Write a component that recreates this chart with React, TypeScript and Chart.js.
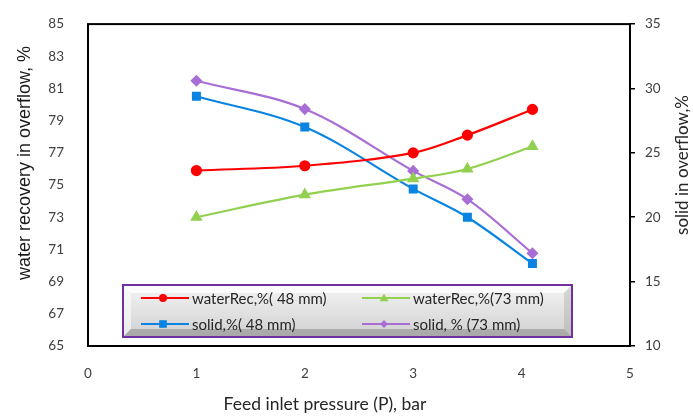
import React, { useEffect, useRef } from "react";
import { Chart, registerables } from "chart.js";

Chart.register(...registerables);

const pressure = [1, 2, 3, 3.5, 4.1];
const waterRec48 = [75.9, 76.2, 77.0, 78.1, 79.7];
const waterRec73 = [73.0, 74.4, 75.4, 76.0, 77.4];
const solid48 = [29.4, 27.0, 22.2, 20.0, 16.4];
const solid73 = [30.6, 28.4, 23.6, 21.4, 17.2];
const seriesLabels = ["waterRec,%( 48 mm)", "waterRec,%(73 mm)", "solid,%( 48 mm)", "solid, % (73 mm)"];
const xTitle = "Feed inlet pressure (P), bar";
const yTitle = "water recovery in overflow, %";
const y1Title = "solid in overflow,%";

const FONT = 'Lato, "Open Sans", sans-serif';
const ARIAL = '"Liberation Sans", Arial, sans-serif';

function drawMarker(ctx: CanvasRenderingContext2D, style: string, x: number, y: number, r: number, color: string) {
  ctx.save();
  ctx.fillStyle = color;
  ctx.beginPath();
  if (style === "circle") {
    ctx.arc(x, y, r, 0, Math.PI * 2);
  } else if (style === "rect") {
    ctx.rect(x - r, y - r, 2 * r, 2 * r);
  } else if (style === "triangle") {
    ctx.moveTo(x, y - r * 1.1);
    ctx.lineTo(x + r * 1.1, y + r * 0.8);
    ctx.lineTo(x - r * 1.1, y + r * 0.8);
    ctx.closePath();
  } else {
    ctx.moveTo(x, y - r);
    ctx.lineTo(x + r, y);
    ctx.lineTo(x, y + r);
    ctx.lineTo(x - r, y);
    ctx.closePath();
  }
  ctx.fill();
  ctx.restore();
}

const framePlugin = {
  id: "frameAndTitles",
  beforeDatasetsDraw(chart: any) {
    const { ctx, chartArea: a } = chart;
    ctx.save();
    ctx.strokeStyle = "#000";
    ctx.lineWidth = 2;
    ctx.strokeRect(a.left, a.top, a.right - a.left, a.bottom - a.top);
    ctx.restore();
  },
  afterDraw(chart: any) {
    const { ctx, chartArea: a } = chart;
    ctx.save();
    ctx.fillStyle = "#262626";
    ctx.textAlign = "center";
    ctx.textBaseline = "middle";
    ctx.font = `17.5px ${FONT}`;
    ctx.fillText(xTitle, 325, 404);
    ctx.fillStyle = "#1a1a1a";
    ctx.font = `18px ${ARIAL}`;
    ctx.save();
    ctx.translate(25, 163);
    ctx.rotate(-Math.PI / 2);
    ctx.fillText(yTitle, 0, 0);
    ctx.restore();
    ctx.fillStyle = "#262626";
    ctx.font = `17px ${FONT}`;
    ctx.save();
    ctx.translate(683, 165);
    ctx.rotate(-Math.PI / 2);
    ctx.fillText(y1Title, 0, 0);
    ctx.restore();

    // legend box with bevel
    const L = a.left + 35, T = a.bottom - 61, W = 449, H = 52, d = 8;
    const R = L + W, B = T + H;
    const g = ctx.createLinearGradient(0, T, 0, B);
    g.addColorStop(0, "#f4f4f4");
    g.addColorStop(1, "#d0d0d0");
    ctx.fillStyle = g;
    ctx.fillRect(L, T, W, H);
    const poly = (pts: number[][], c: string) => {
      ctx.beginPath();
      ctx.moveTo(pts[0][0], pts[0][1]);
      for (let i = 1; i < pts.length; i++) ctx.lineTo(pts[i][0], pts[i][1]);
      ctx.closePath();
      ctx.fillStyle = c;
      ctx.fill();
    };
    poly([[L, T], [R, T], [R - d, T + d], [L + d, T + d]], "rgba(255,255,255,0.75)");
    poly([[L, T], [L + d, T + d], [L + d, B - d], [L, B]], "rgba(255,255,255,0.55)");
    poly([[L, B], [L + d, B - d], [R - d, B - d], [R, B]], "rgba(110,110,110,0.4)");
    poly([[R, T], [R, B], [R - d, B - d], [R - d, T + d]], "rgba(150,150,150,0.3)");
    ctx.strokeStyle = "#7030A0";
    ctx.lineWidth = 2;
    ctx.strokeRect(L, T, W, H);

    ctx.font = `15px ${FONT}`;
    ctx.textAlign = "left";
    ctx.fillStyle = "#262626";
    const cols = [L + 18, L + 239];
    const rows = [T + 13, T + 39];
    chart.data.datasets.forEach((ds: any, i: number) => {
      const x0 = cols[i % 2];
      const y0 = rows[Math.floor(i / 2)];
      ctx.strokeStyle = ds.borderColor;
      ctx.lineWidth = 2.2;
      ctx.beginPath();
      ctx.moveTo(x0, y0);
      ctx.lineTo(x0 + 48, y0);
      ctx.stroke();
      drawMarker(ctx, ds.pointStyle, x0 + 22, y0, ds.pointStyle === "rect" ? 3.8 : 4, ds.pointBackgroundColor);
      ctx.fillStyle = "#262626";
      ctx.fillText(ds.label, x0 + 51, y0 + 1);
    });
    ctx.restore();
  },
};

export default function App() {
  const ref = useRef<HTMLCanvasElement | null>(null);
  useEffect(() => {
    if (!ref.current) return;
    const mk = (label: string, data: number[], color: string, style: string, axis: string, r: number) => ({
      label,
      data: pressure.map((x, i) => ({ x, y: data[i] })),
      borderColor: color,
      backgroundColor: color,
      pointBackgroundColor: color,
      pointBorderColor: color,
      pointStyle: style,
      pointRadius: r,
      borderWidth: 2.2,
      tension: 0.35,
      yAxisID: axis,
    });
    const chart = new Chart(ref.current, {
      type: "line",
      data: {
        datasets: [
          mk(seriesLabels[0], waterRec48, "#FF0000", "circle", "y", 4.5),
          mk(seriesLabels[1], waterRec73, "#92D050", "triangle", "y", 5),
          mk(seriesLabels[2], solid48, "#0A84E0", "rect", "y1", 4.8),
          mk(seriesLabels[3], solid73, "#A86ED6", "rectRot", "y1", 4.5),
        ],
      } as any,
      options: {
        animation: false,
        responsive: false,
        layout: { padding: { top: 15, left: 0, right: 0, bottom: 0 } },
        plugins: { legend: { display: false }, tooltip: { enabled: false } },
        scales: {
          x: {
            type: "linear",
            min: 0,
            max: 5,
            ticks: { stepSize: 1, color: "#404040", font: { size: 13.5, family: FONT }, padding: 12 },
            grid: { display: false },
            border: { display: false },
            afterFit: (s: any) => { s.height = 71; },
          },
          y: {
            position: "left",
            min: 65,
            max: 85,
            ticks: { stepSize: 2, color: "#404040", font: { size: 13.5, family: FONT }, padding: 16 },
            grid: { display: false },
            border: { display: false },
            afterFit: (s: any) => { s.width = 88; },
          },
          y1: {
            position: "right",
            min: 10,
            max: 35,
            ticks: { stepSize: 5, color: "#404040", font: { size: 13.5, family: FONT }, padding: 10 },
            grid: { drawOnChartArea: false, drawTicks: true, tickLength: 5, color: "#000", lineWidth: 1.5 },
            border: { display: false },
            afterFit: (s: any) => { s.width = 63; },
          },
        },
      } as any,
      plugins: [framePlugin],
    });
    return () => chart.destroy();
  }, []);
  return (
    <div style={{ position: "absolute", left: 0, top: 0, width: 693, height: 417, background: "#fff" }}>
      <canvas ref={ref} width={693} height={417} />
    </div>
  );
}
